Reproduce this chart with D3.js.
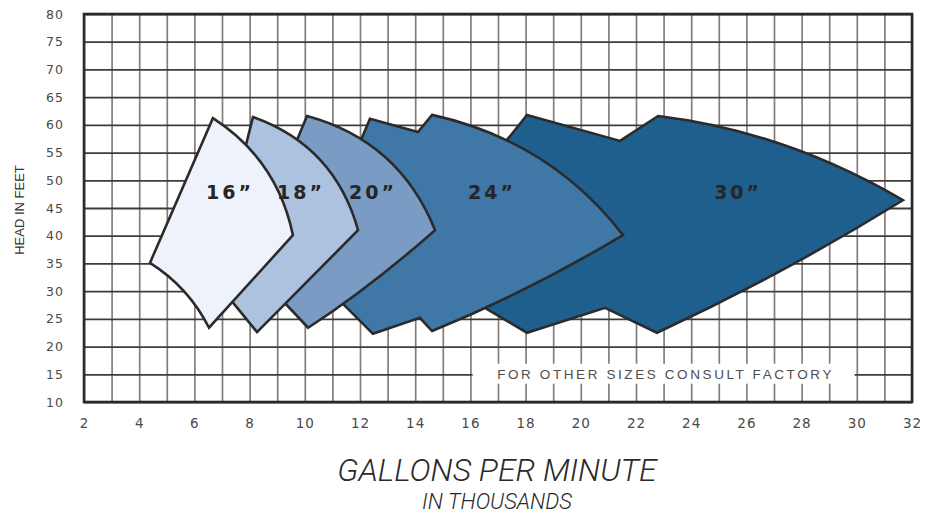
<!DOCTYPE html>
<html>
<head>
<meta charset="utf-8">
<title>Head vs flow by pump size</title>
<script src="https://d3js.org/d3.v7.min.js"></script>
<style>
  body { margin: 0; background: #fff; }
</style>
</head>
<body>
<div id="chart"></div>
<script>

// tick labels
var xTicks = [2, 4, 6, 8, 10, 12, 14, 16, 18, 20, 22, 24, 26, 28, 30, 32];
var yTicks = [10, 15, 20, 25, 30, 35, 40, 45, 50, 55, 60, 65, 70, 75, 80];

// pump sizes
var sizes = ["16”", "18”", "20”", "24”", "30”"];

// outline of each size region: [gpm (thousands), head (ft)]
// a point marked "c" sits on a curved edge between its neighbours
var outline16 = [[6.67, 61.2], [8.56, 52.2, "c"], [9.57, 40.1], [6.53, 23.4], [5.62, 30.0, "c"], [4.39, 35.1]];
var outline18 = [[8.12, 61.4], [10.55, 53.7, "c"], [11.93, 41.0], [8.27, 22.6], [6.67, 32.4]];
var outline20 = [[10.08, 61.6], [12.91, 54.2, "c"], [14.72, 41.0], [12.36, 31.3, "c"], [10.12, 23.4], [7.87, 35.3]];
var outline24 = [[12.36, 61.1], [14.10, 58.7], [14.61, 61.8], [18.49, 54.0, "c"], [21.53, 40.1], [18.05, 30.6, "c"],
                 [14.61, 22.8], [14.17, 25.2], [12.47, 22.3], [10.08, 34.2]];
var outline30 = [[18.05, 61.8], [21.42, 57.1], [22.80, 61.6], [27.33, 56.4, "c"], [31.67, 46.4], [27.22, 33.6, "c"],
                 [22.76, 22.5], [20.88, 27.0], [18.05, 22.5], [13.78, 35.1]];

// where each size label sits
var labelGpm = [7.29, 9.86, 12.47, 16.78, 25.70];
var labelHead = [47.8, 47.8, 47.9, 47.9, 47.9];

var fills = ["#eef2fa", "#adc2df", "#7a9bc4", "#3f77a7", "#1f5f8d"];

var outlines = [outline16, outline18, outline20, outline24, outline30];

// layout
var width = 944;
var height = 516;
var margin = { top: 14, right: 32, bottom: 114, left: 84 };
var plotW = width - margin.left - margin.right;
var plotH = height - margin.top - margin.bottom;

var svg = d3.select("#chart")
  .append("svg")
  .attr("width", width)
  .attr("height", height);

var g = svg.append("g")
  .attr("transform", "translate(" + margin.left + "," + margin.top + ")");

var x = d3.scaleLinear().domain([2, 32]).range([0, plotW]);
var y = d3.scaleLinear().domain([10, 80]).range([plotH, 0]);

// grid: vertical every 1, horizontal every 5
g.append("g")
  .attr("class", "grid-x")
  .attr("transform", "translate(0," + plotH + ")")
  .call(d3.axisBottom(x).ticks(30).tickSize(-plotH).tickFormat(""))
  .call(s => s.select(".domain").remove())
  .selectAll("line")
  .attr("stroke", "#857c7c")
  .attr("stroke-width", 1.7);

g.append("g")
  .attr("class", "grid-y")
  .call(d3.axisLeft(y).tickValues(yTicks).tickSize(-plotW).tickFormat(""))
  .call(s => s.select(".domain").remove())
  .selectAll("line")
  .attr("stroke", "#3c3c3c")
  .attr("stroke-width", 1.8);

// note box over the grid
g.append("rect")
  .attr("x", x(16.08))
  .attr("y", y(16.9))
  .attr("width", x(29.92) - x(16.08))
  .attr("height", y(13.3) - y(16.9))
  .attr("fill", "#fff");

g.append("text")
  .attr("x", (x(16) + x(30)) / 2 + 2)
  .attr("y", y(15))
  .attr("dy", "0.36em")
  .attr("text-anchor", "middle")
  .style("font-family", "'Liberation Sans', Arial, sans-serif")
  .style("font-size", "13.5px")
  .style("letter-spacing", "2.6px")
  .style("fill", "#4d4d4d")
  .text("FOR OTHER SIZES CONSULT FACTORY");

// build a closed outline, curved edges pass through the "c" points
function outlinePath(pts) {
  var p = d3.path();
  var n = pts.length;
  p.moveTo(x(pts[0][0]), y(pts[0][1]));
  for (var i = 1; i <= n; i++) {
    var cur = pts[i % n];
    if (cur[2] === "c") {
      var a = pts[i - 1], b = pts[(i + 1) % n];
      var ax = x(a[0]), ay = y(a[1]);
      var mx = x(cur[0]), my = y(cur[1]);
      var bx = x(b[0]), by = y(b[1]);
      p.quadraticCurveTo(2 * mx - (ax + bx) / 2, 2 * my - (ay + by) / 2, bx, by);
      i++;
    } else {
      p.lineTo(x(cur[0]), y(cur[1]));
    }
  }
  p.closePath();
  return p.toString();
}

// biggest size at the back
var order = [4, 3, 2, 1, 0];
g.selectAll("path.size")
  .data(order)
  .enter()
  .append("path")
  .attr("class", "size")
  .attr("d", i => outlinePath(outlines[i]))
  .attr("fill", i => fills[i])
  .attr("stroke", "#2b2b2b")
  .attr("stroke-width", 2.6)
  .attr("stroke-linejoin", "miter");

g.selectAll("text.size-label")
  .data(sizes)
  .enter()
  .append("text")
  .attr("class", "size-label")
  .attr("x", (d, i) => x(labelGpm[i]))
  .attr("y", (d, i) => y(labelHead[i]))
  .attr("dy", "0.36em")
  .attr("text-anchor", "middle")
  .style("font-family", "'DejaVu Sans', sans-serif")
  .style("font-weight", "bold")
  .style("font-size", "19px")
  .style("letter-spacing", "3px")
  .style("fill", "#262626")
  .text(d => d);

// border
g.append("rect")
  .attr("x", 0)
  .attr("y", 0)
  .attr("width", plotW)
  .attr("height", plotH)
  .attr("fill", "none")
  .attr("stroke", "#2a2a2a")
  .attr("stroke-width", 2.6);

// tick labels
var yAxis = g.append("g")
  .call(d3.axisLeft(y).tickValues(yTicks).tickSize(0).tickPadding(20));
yAxis.select(".domain").remove();
yAxis.selectAll("text")
  .style("font-family", "'DejaVu Sans', sans-serif")
  .style("font-size", "12.5px")
  .style("letter-spacing", "1px")
  .style("fill", "#4a4a4a");

var xAxis = g.append("g")
  .attr("transform", "translate(0," + plotH + ")")
  .call(d3.axisBottom(x).tickValues(xTicks).tickSize(0).tickPadding(16));
xAxis.select(".domain").remove();
xAxis.selectAll("text")
  .style("font-family", "'DejaVu Sans', sans-serif")
  .style("font-size", "13.5px")
  .style("letter-spacing", "1px")
  .style("fill", "#4a4a4a");

// axis titles
svg.append("text")
  .attr("transform", "translate(24,210) rotate(-90)")
  .attr("text-anchor", "middle")
  .style("font-family", "'Liberation Sans', Arial, sans-serif")
  .style("font-size", "13px")
  .style("fill", "#333")
  .text("HEAD IN FEET");

svg.append("text")
  .attr("x", 497)
  .attr("y", 481)
  .attr("text-anchor", "middle")
  .style("font-family", "Roboto, 'Liberation Sans', sans-serif")
  .style("font-weight", "300")
  .style("font-style", "italic")
  .style("font-size", "32px")
  .style("fill", "#2a2a2a")
  .text("GALLONS PER MINUTE");

svg.append("text")
  .attr("x", 497)
  .attr("y", 509)
  .attr("text-anchor", "middle")
  .style("font-family", "Roboto, 'Liberation Sans', sans-serif")
  .style("font-weight", "300")
  .style("font-style", "italic")
  .style("font-size", "22px")
  .style("fill", "#2a2a2a")
  .text("IN THOUSANDS");

</script>
</body>
</html>
